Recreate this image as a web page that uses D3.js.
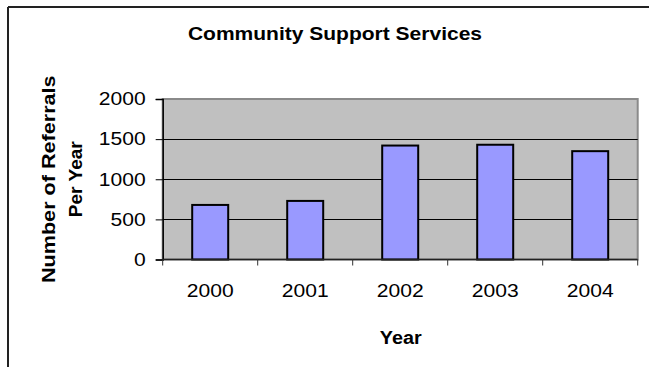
<!DOCTYPE html>
<html>
<head>
<meta charset="utf-8">
<script src="https://cdn.jsdelivr.net/npm/d3@7"></script>
<style>
  html, body { margin: 0; padding: 0; background: #fff; }
  svg { display: block; }
  text { font-family: "Liberation Sans", Arial, sans-serif; fill: #000; }
</style>
</head>
<body>
<script>
const categories = ["2000", "2001", "2002", "2003", "2004"];
const referrals = [680, 730, 1420, 1430, 1350];
const yTicks = [0, 500, 1000, 1500, 2000];
const titleText = "Community Support Services";
const xTitle = "Year";
const yTitleLines = ["Number of Referrals", "Per Year"];

const W = 649, H = 367;
const plot = { left: 162.7, right: 637.7, top: 99, bottom: 259.5 };
const STRETCH = 1.17;

const svg = d3.select("body").append("svg").attr("width", W).attr("height", H);

function stretch(sel, f) {
  sel.each(function() {
    const len = this.getComputedTextLength();
    d3.select(this).attr("textLength", len * (f || STRETCH)).attr("lengthAdjust", "spacingAndGlyphs");
  });
}

// chart border (top and left visible)
svg.append("line").attr("x1", 8).attr("x2", W).attr("y1", 7).attr("y2", 7)
  .attr("stroke", "#222").attr("stroke-width", 2);
svg.append("line").attr("x1", 8).attr("x2", 8).attr("y1", 7).attr("y2", H)
  .attr("stroke", "#222").attr("stroke-width", 2);

const x = d3.scaleBand().domain(categories).range([plot.left, plot.right])
  .paddingInner(0.6).paddingOuter(0.3);
const y = d3.scaleLinear().domain([0, 2000]).range([plot.bottom, plot.top]);

// plot background
svg.append("rect").attr("x", plot.left).attr("y", plot.top)
  .attr("width", plot.right - plot.left).attr("height", plot.bottom - plot.top)
  .attr("fill", "#C0C0C0").attr("stroke", "#8a8a8a").attr("stroke-width", 2);

// gridlines
svg.append("g").selectAll("line").data(yTicks.filter(d => d > 0 && d < 2000)).join("line")
  .attr("x1", plot.left).attr("x2", plot.right)
  .attr("y1", d => Math.round(y(d)) + 0.5).attr("y2", d => Math.round(y(d)) + 0.5)
  .attr("stroke", "#000").attr("stroke-width", 1);

// bars
svg.append("g").selectAll("rect").data(categories).join("rect")
  .attr("x", d => x(d) + 1)
  .attr("width", x.bandwidth() - 2)
  .attr("y", (d, i) => y(referrals[i]))
  .attr("height", (d, i) => plot.bottom - y(referrals[i]))
  .attr("fill", "#9999FF").attr("stroke", "#000").attr("stroke-width", 2);

// y axis
const yAxis = svg.append("g").attr("transform", `translate(${plot.left},0)`)
  .call(d3.axisLeft(y).tickValues(yTicks).tickSize(7).tickPadding(10).tickFormat(d3.format("d")));
yAxis.select(".domain").attr("stroke", "#000").attr("stroke-width", 1.5);
yAxis.selectAll(".tick line").attr("stroke", "#000");
yAxis.selectAll("text").attr("font-size", 18).attr("font-family", "Liberation Sans, Arial, sans-serif").call(stretch);

// x axis line and boundary ticks
svg.append("line").attr("x1", plot.left).attr("x2", plot.right)
  .attr("y1", plot.bottom).attr("y2", plot.bottom).attr("stroke", "#222").attr("stroke-width", 1.5);
const bounds = d3.range(categories.length + 1).map(i => plot.left + i * x.step());
svg.append("g").selectAll("line").data(bounds).join("line")
  .attr("x1", d => d).attr("x2", d => d)
  .attr("y1", plot.bottom).attr("y2", plot.bottom + 6)
  .attr("stroke", "#333").attr("stroke-width", 1);

// x tick labels
svg.append("g").selectAll("text").data(categories).join("text")
  .attr("x", d => x(d) + x.bandwidth() / 2)
  .attr("y", plot.bottom + 37)
  .attr("text-anchor", "middle").attr("font-size", 18)
  .text(d => d).call(stretch);

// title
svg.append("text").attr("x", 335).attr("y", 39.5).attr("text-anchor", "middle")
  .attr("font-size", 17.5).attr("font-weight", "bold").text(titleText).call(stretch, 1.2);

// x axis title
svg.append("text").attr("x", 400.7).attr("y", 344).attr("text-anchor", "middle")
  .attr("font-size", 18).attr("font-weight", "bold").text(xTitle).call(stretch, 1.1);

// y axis title
const cy = (plot.top + plot.bottom) / 2;
const yt = svg.append("g");
yt.append("text").attr("transform", `translate(55,${cy}) rotate(-90)`)
  .attr("text-anchor", "middle").attr("font-size", 18).attr("font-weight", "bold")
  .text(yTitleLines[0]).call(stretch, 1.2);
yt.append("text").attr("transform", `translate(81.7,${cy}) rotate(-90)`)
  .attr("text-anchor", "middle").attr("font-size", 18).attr("font-weight", "bold")
  .text(yTitleLines[1]).call(stretch, 1.06);
</script>
</body>
</html>
